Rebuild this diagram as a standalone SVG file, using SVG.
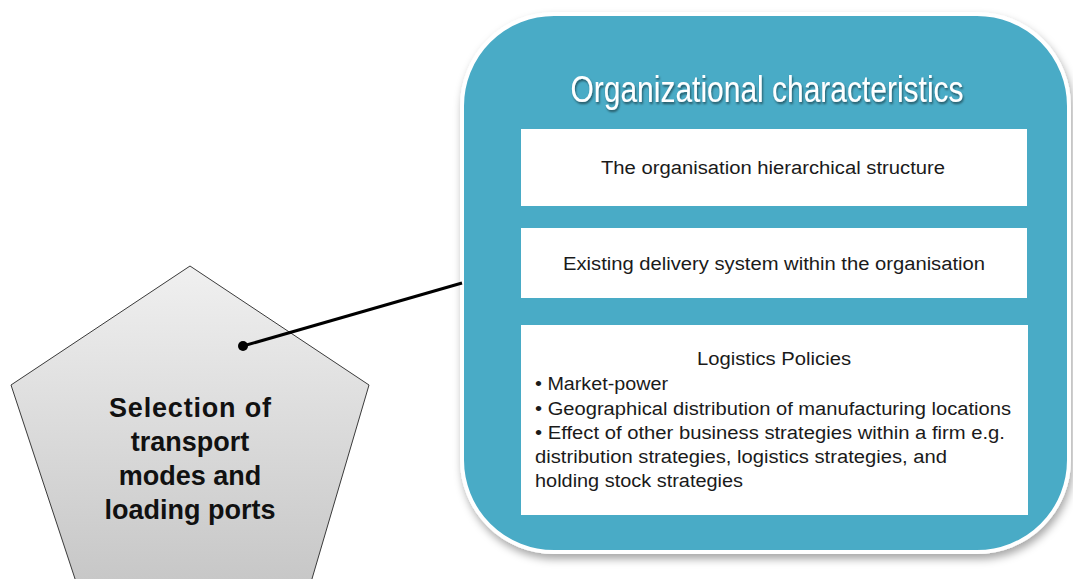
<svg xmlns="http://www.w3.org/2000/svg" width="1073" height="579" viewBox="0 0 1073 579">
  <style>
    .box { fill: #ffffff; }
    .t { font-family: "Liberation Sans", Arial, sans-serif; font-size: 18px; fill: #1a1a1a; }
    .c { text-anchor: middle; }
    .title { font-family: "Liberation Sans", Arial, sans-serif; font-size: 36px; fill: #ffffff; text-anchor: middle; }
    .pent { font-family: "Liberation Sans", Arial, sans-serif; font-size: 27px; font-weight: bold; fill: #111111; text-anchor: middle; }
  </style>
  <defs>
    <linearGradient id="gray" x1="0" y1="0" x2="0" y2="1">
      <stop offset="0" stop-color="#f0f0f0"/>
      <stop offset="1" stop-color="#c4c4c4"/>
    </linearGradient>
    <filter id="shadow" x="-10%" y="-10%" width="120%" height="125%">
      <feDropShadow dx="2" dy="5" stdDeviation="4" flood-color="#000000" flood-opacity="0.35"/>
    </filter>
    <filter id="tshadow" x="-5%" y="-20%" width="110%" height="150%">
      <feDropShadow dx="1" dy="2" stdDeviation="1" flood-color="#000000" flood-opacity="0.5"/>
    </filter>
  </defs>
  <rect width="1073" height="579" fill="#ffffff"/>

  <g id="pentagon">
    <polygon points="190,266 369,385 304,606 84,606 11,385" fill="url(#gray)" stroke="#3a3a3a" stroke-width="1"/>
    <text class="pent" x="190" y="417" textLength="162" lengthAdjust="spacing">Selection of</text>
    <text class="pent" x="190" y="451">transport</text>
    <text class="pent" x="190" y="485">modes and</text>
    <text class="pent" x="190" y="519">loading ports</text>
  </g>

  <g id="organizational">
    <rect x="462" y="14" width="607" height="538" rx="92" ry="92" fill="#4aabc6" stroke="#ffffff" stroke-width="4" filter="url(#shadow)"/>
    <text class="title" x="767" y="102" textLength="393" lengthAdjust="spacingAndGlyphs" filter="url(#tshadow)">Organizational characteristics</text>
  </g>

  <g id="box-hierarchy">
    <rect class="box" x="521" y="129" width="506" height="77"/>
    <text class="t c" x="773" y="174" textLength="344" lengthAdjust="spacingAndGlyphs">The organisation hierarchical structure</text>
  </g>

  <g id="box-delivery">
    <rect class="box" x="521" y="228" width="506" height="70"/>
    <text class="t c" x="774" y="270" textLength="422" lengthAdjust="spacingAndGlyphs">Existing delivery system within the organisation</text>
  </g>

  <g id="box-policies">
    <rect class="box" x="521" y="325" width="507" height="190"/>
    <text class="t c" x="774" y="365" textLength="154" lengthAdjust="spacingAndGlyphs">Logistics Policies</text>
    <text class="t" x="535" y="390" textLength="133" lengthAdjust="spacingAndGlyphs">• Market-power</text>
    <text class="t" x="535" y="415" textLength="476" lengthAdjust="spacingAndGlyphs">• Geographical distribution of manufacturing locations</text>
    <text class="t" x="535" y="439" textLength="470" lengthAdjust="spacingAndGlyphs">• Effect of other business strategies within a firm e.g.</text>
    <text class="t" x="535" y="463" textLength="412" lengthAdjust="spacingAndGlyphs">distribution strategies, logistics strategies, and</text>
    <text class="t" x="535" y="487" textLength="208" lengthAdjust="spacingAndGlyphs">holding stock strategies</text>
  </g>

  <g id="connectors">
    <line x1="243" y1="346" x2="462" y2="283" stroke="#000000" stroke-width="3"/>
    <circle cx="243" cy="346" r="5" fill="#000000"/>
  </g>
</svg>
